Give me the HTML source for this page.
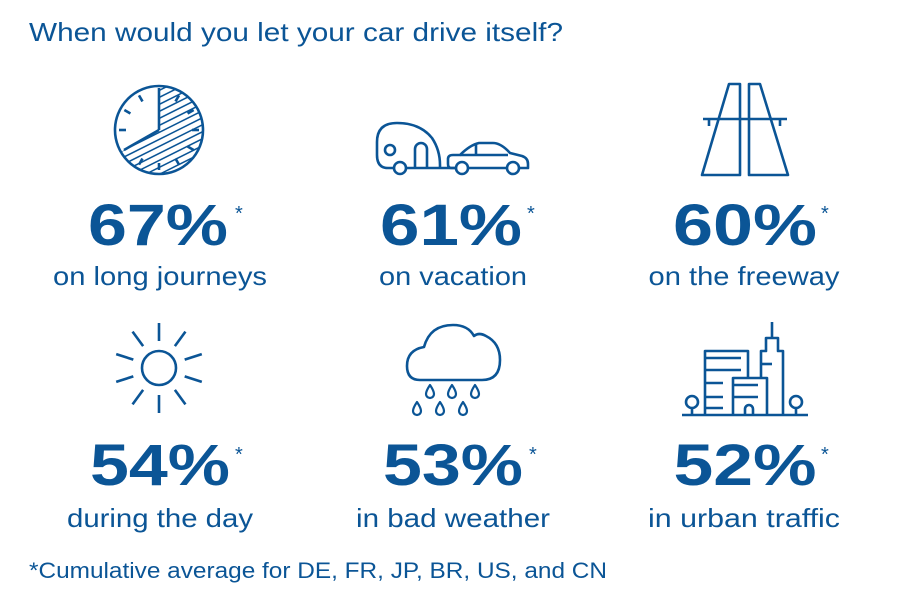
<!DOCTYPE html>
<html><head><meta charset="utf-8">
<style>
html,body{margin:0;padding:0;background:#fff;}
svg{display:block;}
text{fill:#0b5596;font-family:"Liberation Sans",sans-serif;}
.pct{font-weight:bold;font-size:58px;}
.lbl{font-size:26px;}
.ast{font-size:20px;}
.ic{fill:none;stroke:#0b5596;stroke-width:2.6;stroke-linecap:butt;stroke-linejoin:round;}
</style></head>
<body>
<svg width="900" height="600" viewBox="0 0 900 600" xmlns="http://www.w3.org/2000/svg">
<rect width="900" height="600" fill="#fff"/>
<text x="29" y="41" font-size="26" textLength="534" lengthAdjust="spacingAndGlyphs">When would you let your car drive itself?</text>

<!-- Clock -->
<defs>
<clipPath id="sec"><path d="M159,130 L159,86 A44,44 0 1,1 120.9,152 Z"/></clipPath>
</defs>
<g clip-path="url(#sec)" stroke="#0b5596" stroke-width="1.5">
<line x1="100" y1="120" x2="220" y2="60"/>
<line x1="100" y1="127" x2="220" y2="67"/>
<line x1="100" y1="134" x2="220" y2="74"/>
<line x1="100" y1="141" x2="220" y2="81"/>
<line x1="100" y1="148" x2="220" y2="88"/>
<line x1="100" y1="155" x2="220" y2="95"/>
<line x1="100" y1="162" x2="220" y2="102"/>
<line x1="100" y1="169" x2="220" y2="109"/>
<line x1="100" y1="176" x2="220" y2="116"/>
<line x1="100" y1="183" x2="220" y2="123"/>
<line x1="100" y1="190" x2="220" y2="130"/>
<line x1="100" y1="197" x2="220" y2="137"/>
<line x1="100" y1="204" x2="220" y2="144"/>
<line x1="100" y1="211" x2="220" y2="151"/>
<line x1="100" y1="218" x2="220" y2="158"/>
<line x1="100" y1="225" x2="220" y2="165"/>
<line x1="100" y1="232" x2="220" y2="172"/>
<line x1="100" y1="239" x2="220" y2="179"/>
</g>
<g class="ic">
<circle cx="159" cy="130" r="44"/>
<line x1="159" y1="130" x2="159" y2="88"/>
<line x1="159" y1="130" x2="124" y2="150"/>
</g>
<g stroke="#0b5596" stroke-width="2.6" transform="translate(159,130)">
<line x1="0" y1="-33" x2="0" y2="-40" transform="rotate(30)"/>
<line x1="0" y1="-33" x2="0" y2="-40" transform="rotate(60)"/>
<line x1="0" y1="-33" x2="0" y2="-40" transform="rotate(90)"/>
<line x1="0" y1="-33" x2="0" y2="-40" transform="rotate(120)"/>
<line x1="0" y1="-33" x2="0" y2="-40" transform="rotate(150)"/>
<line x1="0" y1="-33" x2="0" y2="-40" transform="rotate(180)"/>
<line x1="0" y1="-33" x2="0" y2="-40" transform="rotate(210)"/>
<line x1="0" y1="-33" x2="0" y2="-40" transform="rotate(270)"/>
<line x1="0" y1="-33" x2="0" y2="-40" transform="rotate(300)"/>
<line x1="0" y1="-33" x2="0" y2="-40" transform="rotate(330)"/>
</g>

<!-- Caravan + car -->
<g class="ic">
<path d="M394,168 L388,168 Q377,168 377,155 L377,142 Q377,123 397,123 Q420,123 432,138 Q440,150 440,165 L440,168"/>
<line x1="406" y1="168" x2="456" y2="168"/>
<circle cx="390" cy="150" r="5"/>
<path d="M415,168 L415,149 A6,6 0 0,1 427,149 L427,168"/>
<circle cx="400" cy="168" r="6" fill="#fff"/>
<path d="M456,168 L451,168 Q448,168 448,164 L448,159 Q448,155 453,155 L460,155 Q470,145 479,143 L493,143 Q501,143 510,153 L522,156 Q528,158 528,164 L528,168 L519,168"/>
<line x1="468" y1="168" x2="507" y2="168"/>
<line x1="460" y1="155" x2="508" y2="155"/>
<line x1="476" y1="143" x2="476" y2="155"/>
<circle cx="462" cy="168" r="6" fill="#fff"/>
<circle cx="513" cy="168" r="6" fill="#fff"/>
</g>

<!-- Freeway -->
<g class="ic">
<path d="M729,84 L740,84 L740,175 L702,175 Z"/>
<path d="M749,84 L760,84 L788,175 L749,175 Z"/>
<line x1="703" y1="119" x2="787" y2="119"/>
<line x1="709" y1="119" x2="709" y2="126"/>
<line x1="780" y1="119" x2="780" y2="126"/>
</g>

<!-- Sun -->
<g class="ic" transform="translate(159,368)">
<circle cx="0" cy="0" r="17"/>
<g>
<line x1="0" y1="-27" x2="0" y2="-45"/>
<line x1="0" y1="-27" x2="0" y2="-45" transform="rotate(36)"/>
<line x1="0" y1="-27" x2="0" y2="-45" transform="rotate(72)"/>
<line x1="0" y1="-27" x2="0" y2="-45" transform="rotate(108)"/>
<line x1="0" y1="-27" x2="0" y2="-45" transform="rotate(144)"/>
<line x1="0" y1="-27" x2="0" y2="-45" transform="rotate(180)"/>
<line x1="0" y1="-27" x2="0" y2="-45" transform="rotate(216)"/>
<line x1="0" y1="-27" x2="0" y2="-45" transform="rotate(252)"/>
<line x1="0" y1="-27" x2="0" y2="-45" transform="rotate(288)"/>
<line x1="0" y1="-27" x2="0" y2="-45" transform="rotate(324)"/>
</g>
</g>

<!-- Cloud -->
<g class="ic">
<path d="M420,380 Q407,380 407,366 Q407,350 424,347 Q430,325 453,325 Q468,325 474,336 Q479,332 486,336 Q500,343 500,360 Q500,380 482,380 Z"/>
<path d="M430,385 Q434,391 434,394 A4,4 0 0,1 426,394 Q426,391 430,385 Z" stroke-width="2.2"/>
<path d="M452,385 Q456,391 456,394 A4,4 0 0,1 448,394 Q448,391 452,385 Z" stroke-width="2.2"/>
<path d="M475,385 Q479,391 479,394 A4,4 0 0,1 471,394 Q471,391 475,385 Z" stroke-width="2.2"/>
<path d="M417,402 Q421,408 421,411 A4,4 0 0,1 413,411 Q413,408 417,402 Z" stroke-width="2.2"/>
<path d="M440,402 Q444,408 444,411 A4,4 0 0,1 436,411 Q436,408 440,402 Z" stroke-width="2.2"/>
<path d="M463,402 Q467,408 467,411 A4,4 0 0,1 459,411 Q459,408 463,402 Z" stroke-width="2.2"/>
</g>

<!-- City -->
<g class="ic">
<line x1="772" y1="322" x2="772" y2="338"/>
<path d="M761,415 L761,351 L766,351 L766,338 L778,338 L778,351 L783,351 L783,415" fill="#fff"/>
<line x1="761" y1="364" x2="772" y2="364"/>
<path d="M705,415 L705,351 L748,351 L748,378" fill="#fff"/>
<line x1="705" y1="358" x2="741" y2="358"/>
<line x1="705" y1="370" x2="741" y2="370"/>
<line x1="705" y1="383" x2="723" y2="383"/>
<line x1="705" y1="397" x2="723" y2="397"/>
<line x1="705" y1="408" x2="723" y2="408"/>
<path d="M733,415 L733,378 L767,378 L767,415" fill="#fff"/>
<line x1="733" y1="385" x2="758" y2="385"/>
<line x1="733" y1="397" x2="758" y2="397"/>
<path d="M745,415 L745,409 A4,4 0 0,1 753,409 L753,415"/>
<line x1="682" y1="415" x2="808" y2="415"/>
<circle cx="692" cy="402" r="6"/>
<line x1="692" y1="408" x2="692" y2="415"/>
<circle cx="796" cy="402" r="6"/>
<line x1="796" y1="408" x2="796" y2="415"/>
</g>

<!-- Row 1 text -->
<text class="pct" x="158" y="245" text-anchor="middle" textLength="140" lengthAdjust="spacingAndGlyphs">67%</text>
<text class="ast" x="235" y="220">*</text>
<text class="lbl" x="160" y="285" text-anchor="middle" textLength="214" lengthAdjust="spacingAndGlyphs">on long journeys</text>

<text class="pct" x="451" y="245" text-anchor="middle" textLength="142" lengthAdjust="spacingAndGlyphs">61%</text>
<text class="ast" x="527" y="220">*</text>
<text class="lbl" x="453" y="285" text-anchor="middle" textLength="148" lengthAdjust="spacingAndGlyphs">on vacation</text>

<text class="pct" x="745" y="245" text-anchor="middle" textLength="144" lengthAdjust="spacingAndGlyphs">60%</text>
<text class="ast" x="821" y="220">*</text>
<text class="lbl" x="744" y="285" text-anchor="middle" textLength="191" lengthAdjust="spacingAndGlyphs">on the freeway</text>

<!-- Row 2 text -->
<text class="pct" x="160" y="485" text-anchor="middle" textLength="140" lengthAdjust="spacingAndGlyphs">54%</text>
<text class="ast" x="235" y="461">*</text>
<text class="lbl" x="160" y="527" text-anchor="middle" textLength="186" lengthAdjust="spacingAndGlyphs">during the day</text>

<text class="pct" x="453" y="485" text-anchor="middle" textLength="140" lengthAdjust="spacingAndGlyphs">53%</text>
<text class="ast" x="529" y="461">*</text>
<text class="lbl" x="453" y="527" text-anchor="middle" textLength="194" lengthAdjust="spacingAndGlyphs">in bad weather</text>

<text class="pct" x="745" y="485" text-anchor="middle" textLength="143" lengthAdjust="spacingAndGlyphs">52%</text>
<text class="ast" x="821" y="461">*</text>
<text class="lbl" x="744" y="527" text-anchor="middle" textLength="192" lengthAdjust="spacingAndGlyphs">in urban traffic</text>

<text x="29" y="578" font-size="22" textLength="578" lengthAdjust="spacingAndGlyphs">*Cumulative average for DE, FR, JP, BR, US, and CN</text>
</svg>
</body></html>
